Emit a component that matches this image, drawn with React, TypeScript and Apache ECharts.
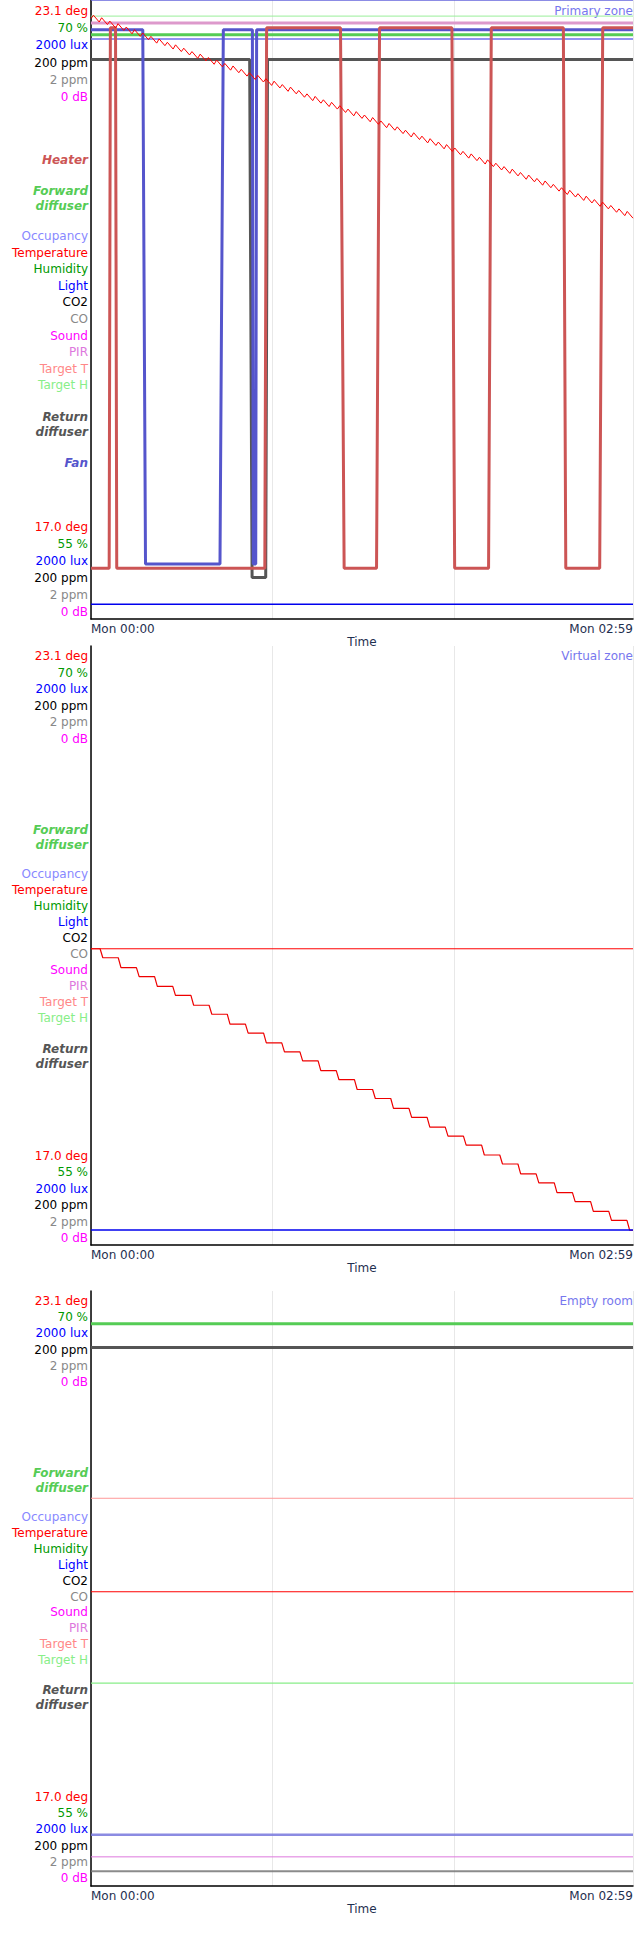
import React, { useEffect, useRef } from 'react';
import * as echarts from 'echarts';

const FONT = 'DejaVu Sans, Verdana, sans-serif';
const END_MIN = 179;

// panels: plot top (px in page), plot height
const panelTitles = ['Primary zone', 'Virtual zone', 'Empty room'];
const panelTops = [0, 646, 1291];
const panelHeights = [619, 599, 595];

// left-hand labels
const topLabels = ['23.1 deg', '70 %', '2000 lux', '200 ppm', '2 ppm', '0 dB'];
const bottomLabels = ['17.0 deg', '55 %', '2000 lux', '200 ppm', '2 ppm', '0 dB'];
const unitColors = ['#ff0000', '#009900', '#0000ff', '#000000', '#888888', '#ff00ff'];
const sensorLabels = ['Occupancy', 'Temperature', 'Humidity', 'Light', 'CO2', 'CO', 'Sound', 'PIR', 'Target T', 'Target H'];
const sensorColors = ['#8888ff', '#ff0000', '#009900', '#0000ff', '#000000', '#888888', '#ff00ff', '#dd77dd', '#ff8888', '#88ee88'];

// temperature scale shared by all panels (deg)
const tempMin = 15.91;
const tempMax = 23.23;

// Primary zone: temperature sawtooth (troughs / peaks, deg)
const primTroughs = [23.01, 22.97, 22.94, 22.90, 22.87, 22.83, 22.80, 22.76, 22.72, 22.69, 22.65, 22.62, 22.58, 22.54, 22.51, 22.47, 22.44, 22.40, 22.37, 22.33, 22.29, 22.26, 22.22, 22.19, 22.15, 22.12, 22.08, 22.04, 22.01, 21.97, 21.94, 21.90, 21.86, 21.83, 21.79, 21.76, 21.72, 21.69, 21.65, 21.61, 21.58, 21.54, 21.51, 21.47, 21.44, 21.40, 21.36, 21.33, 21.29, 21.26, 21.22, 21.18, 21.15, 21.11, 21.08, 21.04, 21.01, 20.97, 20.93, 20.90, 20.86, 20.83, 20.79, 20.76, 20.72, 20.68, 20.65];
const primPeaks = [23.05, 23.02, 22.98, 22.95, 22.91, 22.88, 22.84, 22.80, 22.77, 22.73, 22.70, 22.66, 22.62, 22.59, 22.55, 22.52, 22.48, 22.45, 22.41, 22.37, 22.34, 22.30, 22.27, 22.23, 22.20, 22.16, 22.12, 22.09, 22.05, 22.02, 21.98, 21.94, 21.91, 21.87, 21.84, 21.80, 21.77, 21.73, 21.69, 21.66, 21.62, 21.59, 21.55, 21.52, 21.48, 21.44, 21.41, 21.37, 21.34, 21.30, 21.26, 21.23, 21.19, 21.16, 21.12, 21.09, 21.05, 21.01, 20.98, 20.94, 20.91, 20.87, 20.84, 20.80, 20.76, 20.73];

// Primary zone actuators: switch times (min) and states; levels are % of plot height
const heaterTimes = [0, 6.0, 6.4, 8.1, 8.5, 57.4, 58.0, 82.4, 83.6, 94.3, 95.3, 119.2, 120.1, 131.3, 132.2, 156.0, 156.8, 168.0, 169.0, 179];
const heaterOn = [0, 0, 1, 1, 0, 0, 1, 1, 0, 0, 1, 1, 0, 0, 1, 1, 0, 0, 1, 1];
const fanTimes = [0, 17.1, 18.0, 42.6, 43.7, 53.3, 53.6, 54.4, 54.7, 179];
const fanOn = [1, 1, 0, 0, 1, 1, 0, 0, 1, 1];
const returnTimes = [0, 52.4, 53.2, 57.7, 58.3, 179];
const returnOn = [1, 1, 0, 0, 1, 1];

// Virtual zone: stepwise temperature
const stepTimes = [3, 9, 15, 21, 27, 33, 39, 45, 51, 57, 63, 69, 75, 81, 87, 93, 99, 105, 111, 117, 123, 129, 135, 141, 147, 153, 159, 165, 171, 177];
const stepTemps = [19.53, 19.42, 19.30, 19.19, 19.07, 18.96, 18.84, 18.73, 18.61, 18.50, 18.38, 18.27, 18.16, 18.04, 17.93, 17.81, 17.70, 17.58, 17.47, 17.35, 17.24, 17.13, 17.01, 16.90, 16.78, 16.67, 16.55, 16.44, 16.32, 16.21, 16.09];

function App() {
  const ref = useRef<HTMLDivElement>(null);

  useEffect(() => {
    document.body.style.margin = '0';
    if (!ref.current) return;
    const chart = echarts.init(ref.current, null, { renderer: 'svg' });

    const flat = (v: number): number[][] => [[0, v], [END_MIN, v]];
    const square = (t: number[], on: number[], hi: number, lo: number) => t.map((x, i) => [x, on[i] ? hi : lo]);
    const line = (g: number, data: number[][], color: string, width: number, temp = false, opacity = 1) => ({
      type: 'line', xAxisIndex: g, yAxisIndex: g * 2 + (temp ? 1 : 0), data, showSymbol: false,
      lineStyle: { color, width, opacity }, silent: true,
    });

    const saw: number[][] = [];
    const tooth = END_MIN / (primTroughs.length - 1);
    primTroughs.forEach((v, k) => {
      saw.push([k * tooth, v]);
      if (k < primPeaks.length) saw.push([k * tooth + 0.8, primPeaks[k]]);
    });
    const stairs: number[][] = [[0, stepTemps[0]]];
    stepTimes.forEach((t, i) => { stairs.push([t, stepTemps[i]]); stairs.push([t + 0.9, stepTemps[i + 1]]); });
    stairs.push([END_MIN, stepTemps[stepTemps.length - 1]]);

    const series = [
      // Primary zone
      line(0, flat(100), '#6666dd', 1.5),
      line(0, flat(97.4), '#99ee99', 1),
      line(0, flat(96.3), '#dd99cc', 3),
      line(0, flat(93.7), '#7777ee', 2, false, 0.8),
      line(0, flat(94.4), '#55cc55', 3),
      line(0, square(returnTimes, returnOn, 90.4, 6.7), '#555555', 3),
      line(0, square(fanTimes, fanOn, 95.2, 8.9), '#5555cc', 3),
      line(0, square(heaterTimes, heaterOn, 95.5, 8.2), '#cc5555', 3),
      line(0, flat(2.4), '#0000ee', 1.5),
      line(0, saw, '#ff0000', 1, true),
      // Virtual zone
      line(1, flat(19.53), '#ff0000', 1, true),
      line(1, stairs, '#ee0000', 1.2, true),
      line(1, flat(2.5), '#0000ee', 1.5),
      // Empty room
      line(2, flat(94.5), '#55cc55', 3),
      line(2, flat(90.5), '#555555', 3),
      line(2, flat(20.68), '#ff9999', 1, true),
      line(2, flat(19.53), '#ff0000', 1, true),
      line(2, flat(34.1), '#88ee88', 1.2),
      line(2, flat(8.6), '#7777dd', 2.5, false, 0.85),
      line(2, flat(4.9), '#dd77dd', 1),
      line(2, flat(2.5), '#777777', 2, false, 0.85),
    ];

    // label anchors (px from plot top) per panel
    const anchors = [
      { top: 11, topStep: 17.2, heater: 159, fwd: 190, sens: 236, sensStep: 16.6, ret: 416, fan: 462, bot: 527, botStep: 17 },
      { top: 10, topStep: 16.5, heater: -1, fwd: 183, sens: 228, sensStep: 16, ret: 402, fan: -1, bot: 509.5, botStep: 16.5 },
      { top: 10, topStep: 16.2, heater: -1, fwd: 181, sens: 226, sensStep: 15.9, ret: 398.6, fan: -1, bot: 506, botStep: 16.2 },
    ];
    const graphic: any[] = [];
    const txt = (x: number, y: number, text: string, fill: string, extra: any = {}) => graphic.push({
      type: 'text', x, y, silent: true,
      style: { text, fill, font: `12px ${FONT}`, align: 'right', verticalAlign: 'middle', ...extra },
    });
    const bold = (x: number, y: number, text: string, fill: string) =>
      txt(x, y, text, fill, { font: `italic bold 12px ${FONT}`, lineHeight: 15, verticalAlign: 'top' });
    anchors.forEach((a, g) => {
      const y0 = panelTops[g];
      topLabels.forEach((s, i) => txt(88, y0 + a.top + i * a.topStep, s, unitColors[i]));
      bottomLabels.forEach((s, i) => txt(88, y0 + a.bot + i * a.botStep, s, unitColors[i]));
      sensorLabels.forEach((s, i) => txt(88, y0 + a.sens + i * a.sensStep, s, sensorColors[i]));
      if (a.heater >= 0) bold(88, y0 + a.heater - 7, 'Heater', '#cc5555');
      bold(88, y0 + a.fwd - 7, 'Forward\ndiffuser', '#55cc55');
      bold(88, y0 + a.ret - 7, 'Return\ndiffuser', '#555555');
      if (a.fan >= 0) bold(88, y0 + a.fan - 7, 'Fan', '#5555cc');
      txt(633, y0 + a.top, panelTitles[g], '#7777ee');
    });

    chart.setOption({
      animation: false,
      grid: panelTops.map((t, g) => ({ left: 91, width: 544, top: t, height: panelHeights[g] })),
      xAxis: panelTops.map((_, g) => ({
        type: 'value', gridIndex: g, min: 0, max: END_MIN, interval: 60,
        name: 'Time', nameLocation: 'middle', nameGap: 4,
        nameTextStyle: { color: '#1f3050', fontSize: 12, fontFamily: FONT, verticalAlign: 'top' },
        axisLine: { lineStyle: { color: '#000', width: 1.5 } },
        axisTick: { show: false },
        splitLine: { show: true, lineStyle: { color: '#e8e8e8' } },
        axisLabel: {
          color: '#1f3050', fontSize: 12, fontFamily: FONT, margin: 4,
          showMinLabel: true, showMaxLabel: true, alignMinLabel: 'left', alignMaxLabel: 'right',
          formatter: (v: number) => (v === 0 ? 'Mon 00:00' : v === END_MIN ? 'Mon 02:59' : ''),
        },
      })),
      yAxis: panelTops.flatMap((_, g) => [
        {
          type: 'value', gridIndex: g, min: 0, max: 100,
          axisLine: { show: true, lineStyle: { color: '#000', width: 1.5 } },
          axisTick: { show: false }, axisLabel: { show: false }, splitLine: { show: false },
        },
        {
          type: 'value', gridIndex: g, min: tempMin, max: tempMax, show: false,
          splitLine: { show: false },
        },
      ]),
      series,
      graphic,
    });
    return () => chart.dispose();
  }, []);

  return <div ref={ref} style={{ width: 636, height: 1935 }} />;
}

export default App;
